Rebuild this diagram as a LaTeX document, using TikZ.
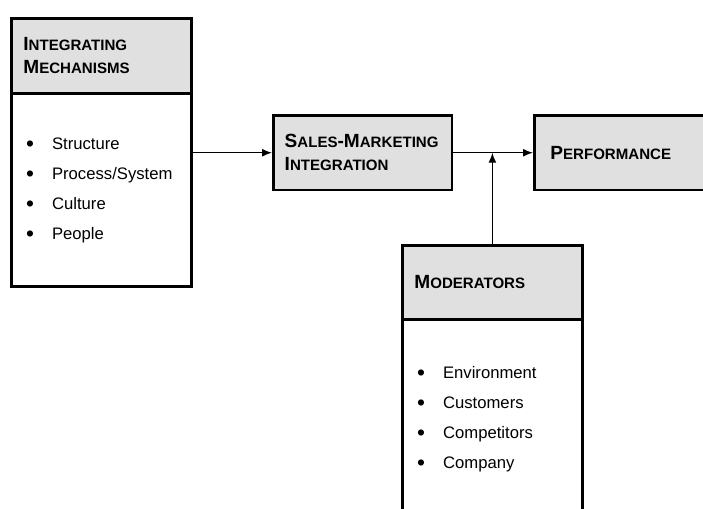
\documentclass[tikz,border=0pt]{standalone}
\usepackage{fontspec}
\setmainfont{Liberation Sans}
\usetikzlibrary{arrows.meta}
\definecolor{hdrgray}{RGB}{224,224,224}
% bold header text in the look of small capitals
\newcommand{\bigsc}[2]{{\fontsize{14.3}{17}\selectfont #1}{\fontsize{11.3}{17}\selectfont #2}}
\newcommand{\itm}[1]{\makebox[19.5pt][l]{\raisebox{-1.6pt}{\fontsize{17}{0}\selectfont\textbullet}}#1}

\begin{document}
\begin{tikzpicture}[x=0.75pt,y=-0.75pt,
    hdrbox/.style={draw, fill=hdrgray, line width=2.1pt, anchor=north west,
      minimum width=135pt, minimum height=56pt, text width=117pt,
      inner xsep=8pt, align=left, font=\bfseries\fontsize{14.3}{17}\selectfont},
    listbox/.style={draw, line width=2.1pt, anchor=north west,
      minimum width=135pt, text width=113pt, inner xsep=10.5pt,
      align=left, font=\fontsize{12.5}{22.5}\selectfont},
    arr/.style={line width=1.1pt, -{Latex[length=7.5pt,width=6pt]}}]
  \clip (0,0) rectangle (703,508);

  \node[hdrbox] (intmech) at (10,17) {\bigsc{I}{NTEGRATING}\\\bigsc{M}{ECHANISMS}};
  \node[listbox, minimum height=145pt] (intlist) at (10,92)
    {\itm{Structure}\\\itm{Process/System}\\\itm{Culture}\\\itm{People}};

  \node[hdrbox, minimum width=134pt] (salesint) at (272,114)
    {\mbox{\bigsc{S}{ALES}-\bigsc{M}{ARKETING}}\\\bigsc{I}{NTEGRATION}};
  \node[hdrbox, minimum width=141pt, inner xsep=10pt] (perf) at (533,114)
    {\bigsc{P}{ERFORMANCE}};

  \node[hdrbox, minimum height=55.5pt] (modhead) at (401,244) {\bigsc{M}{ODERATORS}};
  \node[listbox, minimum height=150pt] (modlist) at (401,318)
    {\itm{Environment}\\\itm{Customers}\\\itm{Competitors}\\\itm{Company}};

  \draw[arr] (intlist.east |- salesint.west) -- (salesint.west);
  \draw[arr] (salesint.east) -- (perf.west);
  \draw[arr] (modhead.north) -- (modhead.north |- salesint.east);
\end{tikzpicture}
\end{document}
